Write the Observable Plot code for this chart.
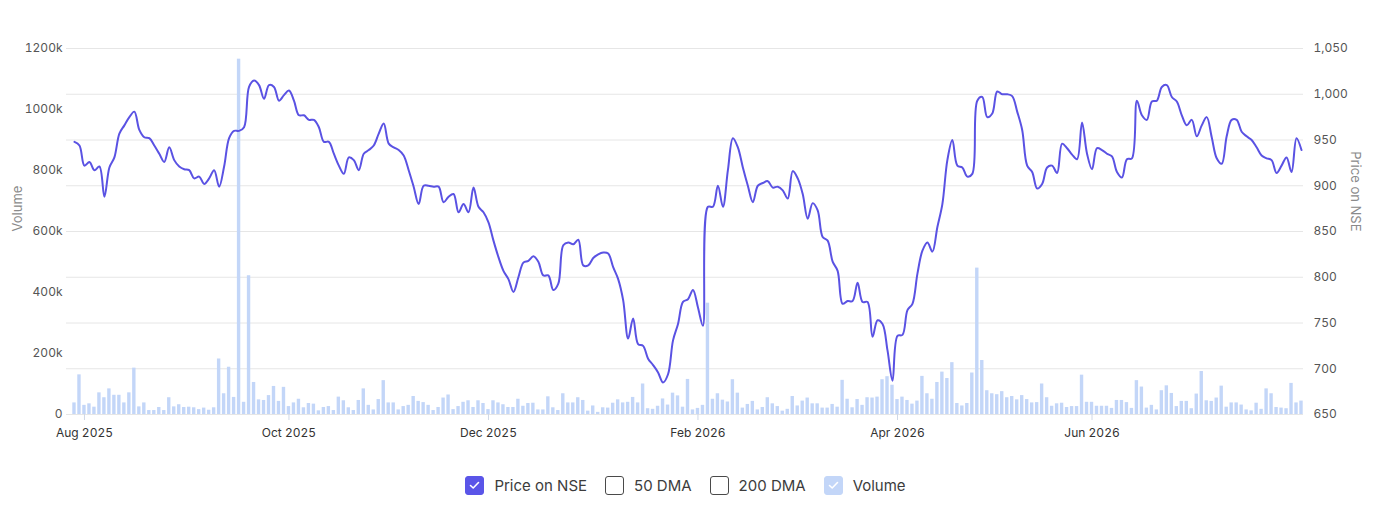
<!DOCTYPE html>
<html>
<head>
<meta charset="utf-8">
<script src="https://cdn.jsdelivr.net/npm/d3@7"></script>
<script src="https://cdn.jsdelivr.net/npm/@observablehq/plot@0.6"></script>
<style>
  html, body { margin: 0; padding: 0; background: #fff; }
  body { width: 1380px; height: 510px; overflow: hidden; font-family: Inter, "Noto Sans", sans-serif; }
  #legend { display: flex; justify-content: center; align-items: center; height: 19px; margin-top: 26px; padding-right: 9px; font-size: 15px; color: #3c3c3c; }
  .item { display: flex; align-items: center; margin: 0 9px; }
  .box { width: 17px; height: 17px; border: 1px solid #4a4a4a; border-radius: 3px; margin-right: 10px; display: flex; align-items: center; justify-content: center; box-sizing: content-box; }
  .box svg { display: block; }
</style>
</head>
<body>
<div id="chart"></div>
<div id="legend"></div>
<script>
// ---- data (one value per trading day, oldest first) ----
const price = [
  948,944,922,926,917,921,888,920,931,957,
  966,975,981,961,953,952,944,935,926,942,
  928,921,918,917,908,910,902,908,917,899,
  921,952,960,960,964,1008,1015,1010,995,1010,
  1008,993,999,1004,993,977,977,972,972,964,
  948,948,935,922,913,931,928,917,935,939,
  944,957,968,946,942,939,933,917,899,880,
  900,900,899,899,882,888,891,871,
  880,871,898,877,871,860,840,822,807,798,
  784,800,816,818,823,817,802,802,786,793,
  835,838,836,841,813,813,821,825,827,826,
  811,798,775,733,755,727,725,711,704,696,
  685,694,731,749,773,776,786,767,747,877,
  877,900,877,917,952,942,920,900,882,900,
  903,905,898,899,895,886,916,908,891,864,
  881,873,844,840,817,807,771,774,774,794,
  773,773,735,753,749,720,687,736,
  737,764,771,804,829,838,828,855,880,928,
  950,922,920,910,913,993,997,975,979,1003,
  1000,1000,998,981,961,922,915,897,902,920,
  922,914,946,941,934,929,969,935,918,941,
  939,935,932,915,909,929,930,993,977,972,
  992,993,1008,1010,997,992,977,966,972,954,
  966,975,953,930,924,954,972,972,959,954,
  950,942,933,930,928,914,922,931,915,952,939
];
// volume in thousands of shares
const volumeK = [
  38,130,30,35,24,71,55,84,63,63,
  38,71,152,25,38,13,13,23,13,55,
  25,32,23,24,22,16,21,14,22,182,
  68,155,56,1165,40,455,105,48,46,62,
  92,43,89,26,38,50,22,36,34,12,
  23,26,13,57,45,22,13,46,84,30,
  15,49,
  111,38,38,15,26,30,59,43,39,30,
  13,23,54,64,16,26,40,45,23,45,
  36,16,45,38,32,23,23,50,27,36,
  37,15,15,58,22,13,68,38,38,55,
  46,11,28,7,22,21,37,48,38,40,
  56,38,100,19,17,27,51,31,70,61,
  24,
  115,15,20,30,365,50,68,47,41,114,
  70,21,33,43,15,23,55,35,26,11,
  17,59,28,44,54,35,35,21,21,33,
  24,112,50,22,49,30,55,54,57,114,
  124,96,49,57,46,34,44,125,68,50,
  105,139,118,170,36,28,36,136,480,177,
  78,68,
  65,75,55,59,48,62,49,38,39,100,
  55,27,35,37,23,26,26,129,40,40,
  27,27,27,20,46,46,39,20,111,90,
  21,30,15,78,94,69,26,43,43,19,
  67,141,45,43,54,93,24,38,38,31,
  15,12,37,17,84,68,23,21,19,102,
  38,44
];
// x-axis month labels and the trading-day index where each month begins
const monthLabels = ["Aug 2025", "Oct 2025", "Dec 2025", "Feb 2026", "Apr 2026", "Jun 2026"];
const monthIndex = [2, 43, 83, 125, 165, 204];
const volumeTicks = [0, 200000, 400000, 600000, 800000, 1000000, 1200000];
const priceTicks = [650, 700, 750, 800, 850, 900, 950, 1000, 1050];
const legendItems = ["Price on NSE", "50 DMA", "200 DMA", "Volume"];

// ---- build table ----
const rows = price.map((p, i) => ({ i, price: p, volume: volumeK[i] * 1000 }));

// price axis is mapped onto the volume scale (dual axis)
const pMin = 650, pMax = 1050, vMax = 1200000;
const toV = p => (p - pMin) / (pMax - pMin) * vMax;
const fromV = v => pMin + v / vMax * (pMax - pMin);

const lineColor = "#5a52e3";
const barColor = "#c3d6f8";

const chart = Plot.plot({
  width: 1380,
  height: 450,
  marginLeft: 66,
  marginRight: 77,
  marginTop: 48,
  marginBottom: 36,
  style: { fontFamily: "Inter, 'Noto Sans', sans-serif", fontSize: "12px", background: "#fff" },
  x: { type: "linear", domain: [-1.6, 246.4] },
  y: { domain: [0, vMax] },
  marks: [
    Plot.gridY(priceTicks.map(toV), { stroke: "#e6e6e6", strokeOpacity: 1 }),
    Plot.rectY(rows, { x1: d => d.i - 0.34, x2: d => d.i + 0.34, y1: 0, y2: "volume", fill: barColor }),
    Plot.line(rows, { x: "i", y: d => toV(d.price), stroke: lineColor, strokeWidth: 2, curve: "catmull-rom" }),
    Plot.axisY(volumeTicks, { anchor: "left", tickSize: 0, tickPadding: 4, fill: "#555", label: null,
      tickFormat: d => d === 0 ? "0" : (d / 1000) + "k" }),
    Plot.axisY(priceTicks.map(toV), { anchor: "right", tickSize: 0, tickPadding: 10, fill: "#555", label: null,
      tickFormat: v => d3.format(",")(Math.round(fromV(v))) }),
    Plot.axisX(monthIndex, { anchor: "bottom", tickSize: 6, tickPadding: 8, stroke: "#d0d8e6", fill: "#333", label: null,
      tickFormat: (d, k) => monthLabels[monthIndex.indexOf(d)] }),
    Plot.text(["Volume"], { frameAnchor: "left", dx: -49, rotate: -90, fill: "#8a8a8a", fontSize: 13 }),
    Plot.text(["Price on NSE"], { frameAnchor: "right", dx: 52, rotate: 90, fill: "#8a8a8a", fontSize: 13 })
  ]
});
document.getElementById("chart").appendChild(chart);

// ---- legend ----
const check = '<svg width="11" height="9" viewBox="0 0 11 9"><polyline points="1.5,4.5 4.2,7 9.5,1.5" fill="none" stroke="#fff" stroke-width="1.6" stroke-linecap="round" stroke-linejoin="round"/></svg>';
const legend = document.getElementById("legend");
legendItems.forEach((name, k) => {
  const item = document.createElement("div");
  item.className = "item";
  const box = document.createElement("span");
  box.className = "box";
  if (k === 0) { box.style.background = "#5a55e8"; box.style.borderColor = "#5a55e8"; box.innerHTML = check; }
  if (k === 3) { box.style.background = "#c3d6f8"; box.style.borderColor = "#c3d6f8"; box.innerHTML = check; }
  const label = document.createElement("span");
  label.textContent = name;
  item.appendChild(box);
  item.appendChild(label);
  legend.appendChild(item);
});
</script>
</body>
</html>
